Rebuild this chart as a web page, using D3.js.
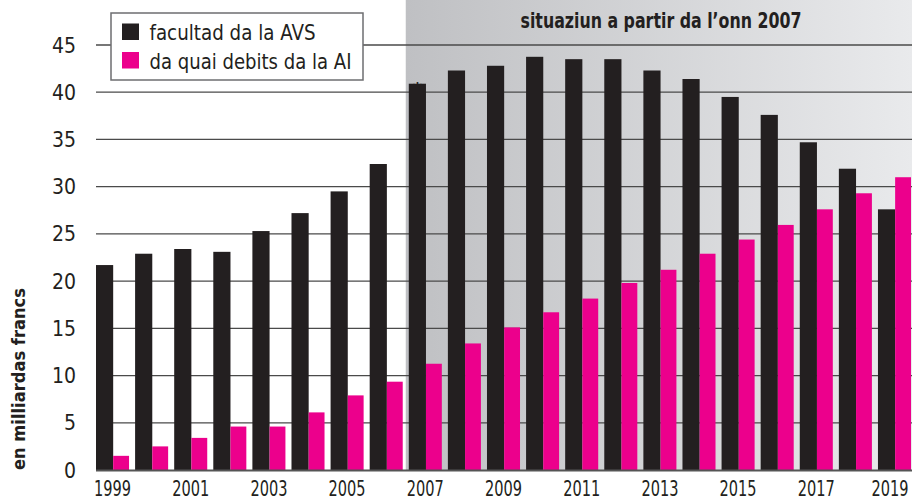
<!DOCTYPE html>
<html><head><meta charset="utf-8">
<script src="https://cdn.jsdelivr.net/npm/d3@7"></script>
<style>
body{margin:0;background:#fff;}
text{font-family:"Liberation Sans Narrow","DejaVu Sans Condensed","Roboto Condensed",sans-serif;fill:#231f20;}
</style></head>
<body><svg id="c" width="912" height="501"></svg>
<script>
const years = d3.range(1999, 2020);
const avs = [21.7,22.9,23.4,23.1,25.3,27.2,29.5,32.4,40.9,42.3,42.8,43.75,43.5,43.5,42.3,41.4,39.5,37.6,34.7,31.9,27.6];
const ai  = [1.5,2.5,3.4,4.6,4.6,6.1,7.9,9.35,11.25,13.4,15.1,16.7,18.15,19.8,21.2,22.9,24.4,25.95,27.6,29.3,31.0];
const yTicks = [0,5,10,15,20,25,30,35,40,45];
const xLabels = [1999,2001,2003,2005,2007,2009,2011,2013,2015,2017,2019];
const seriesNames = ["facultad da la AVS","da quai debits da la AI"];
const colors = ["#231f20","#ec008c"];
const title = "situaziun a partir da l\u2019onn 2007";
const yLabel = "en milliardas francs";

const W=912,H=501, left=96, right=912, bottom=470;
const svg=d3.select("#c");
const x=d3.scaleBand().domain(years).range([left,911]).paddingInner(0.155).paddingOuter(0);
const y=d3.scaleLinear().domain([0,45]).range([bottom,45]);

// gradient shade
const defs=svg.append("defs");
const g=defs.append("linearGradient").attr("id","shade").attr("x1","0").attr("x2","1").attr("y1","0").attr("y2","0");
g.append("stop").attr("offset","0").attr("stop-color","#bfc0c3");
g.append("stop").attr("offset","1").attr("stop-color","#e9eaec");
const shadeX = x(2007) - (x.step()-x.bandwidth())/2;
svg.append("rect").attr("x",shadeX).attr("y",0).attr("width",W-shadeX).attr("height",bottom).attr("fill","url(#shade)");

// grid
svg.append("g").selectAll("line").data(yTicks.filter(d=>d>0)).join("line")
  .attr("x1",left).attr("x2",right).attr("y1",d=>y(d)).attr("y2",d=>y(d))
  .attr("stroke","#4a4a4a").attr("stroke-width",1.3);

// y tick labels
svg.append("g").selectAll("text").data(yTicks).join("text")
  .attr("x",76).attr("y",d=>y(d)).attr("dy","0.36em").attr("text-anchor","end")
  .attr("font-size",21).text(d=>d);

// bars
const bwA = x.bandwidth()*0.52, bwB = x.bandwidth()-bwA;
svg.append("g").selectAll("rect").data(years).join("rect")
  .attr("x",d=>x(d)).attr("width",bwA)
  .attr("y",(d,i)=>y(avs[i])).attr("height",(d,i)=>bottom-y(avs[i]))
  .attr("fill",colors[0]);
svg.append("g").selectAll("rect").data(years).join("rect")
  .attr("x",d=>x(d)+bwA).attr("width",bwB)
  .attr("y",(d,i)=>y(ai[i])).attr("height",(d,i)=>bottom-y(ai[i]))
  .attr("fill",colors[1]);

// baseline
svg.append("line").attr("x1",left).attr("x2",right).attr("y1",bottom+0.5).attr("y2",bottom+0.5)
  .attr("stroke","#555").attr("stroke-width",2);

// asterisk
svg.append("text").attr("x",x(2007)+bwA/2).attr("y",y(avs[8])+12).attr("text-anchor","middle")
  .attr("font-size",20).attr("font-weight","bold").text("*");

// x labels
svg.append("g").selectAll("text").data(xLabels).join("text")
  .attr("transform",d=>`translate(${Math.min(x(d)+x.bandwidth()/2, 890)},496) scale(0.77,1)`)
  .attr("text-anchor","middle")
  .attr("font-size",21).text(d=>d);

// title
svg.append("text").attr("x",661).attr("y",28).attr("text-anchor","middle")
  .attr("font-size",21).attr("font-weight","bold").attr("textLength",281).attr("lengthAdjust","spacingAndGlyphs").text(title);

// y label
svg.append("text").attr("transform","translate(25,379) rotate(-90)").attr("text-anchor","middle")
  .attr("font-size",18).attr("font-weight","bold").attr("textLength",182).attr("lengthAdjust","spacingAndGlyphs").text(yLabel);

// legend
const lg=svg.append("g");
lg.append("rect").attr("x",111).attr("y",13).attr("width",252).attr("height",67)
  .attr("fill","#fff").attr("stroke","#6d6e70").attr("stroke-width",1.5);
const lens=[166,202];
seriesNames.forEach((n,i)=>{
  lg.append("rect").attr("x",122).attr("y",23.5+i*28.5).attr("width",17).attr("height",16.5).attr("fill",colors[i]);
  lg.append("text").attr("x",149.5).attr("y",40+i*28.5).attr("font-size",21)
    .attr("textLength",lens[i]).attr("lengthAdjust","spacingAndGlyphs").text(n);
});
</script></body></html>
